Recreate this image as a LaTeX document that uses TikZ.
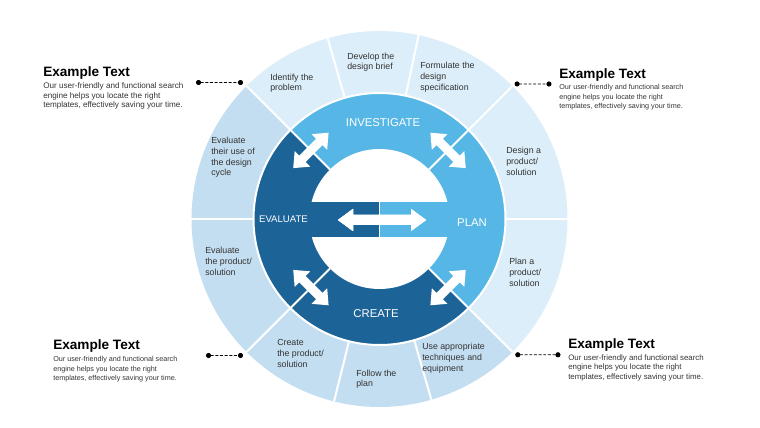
\documentclass[tikz,border=0pt]{standalone}
\usepackage{fontspec}
\setmainfont{Liberation Sans}
\usepackage{tikz}
\usetikzlibrary{arrows.meta, positioning}
\definecolor{darkblue}{HTML}{1C6397}
\definecolor{lightblue}{HTML}{56B7E6}
\definecolor{segL}{HTML}{DCEEF9}
\definecolor{segM}{HTML}{C4DEF1}
\definecolor{txtgray}{HTML}{333333}
\tikzset{>=stealth,
  seg/.style={anchor=base west, align=left, inner sep=0pt, text=txtgray, font=\fontsize{6.6}{8}\selectfont},
  phase/.style={inner sep=0pt, text=white, font=\fontsize{8.5}{10}\selectfont},
  head/.style={anchor=base west, inner sep=0pt, font=\fontsize{10.2}{12}\selectfont\bfseries},
  body/.style={anchor=base west, inner sep=0pt, text=txtgray, align=left, font=\fontsize{6.1}{7.2}\selectfont},
  bodysm/.style={body, font=\fontsize{5.4}{7.2}\selectfont},
  conn/.style={dash pattern=on 2.2pt off 1.3pt, line width=0.6pt, {Circle[length=3.8pt]}-{Circle[length=3.8pt]}},
  sep/.style={white, line width=1.5pt}
}
\newcommand\ringarrow[1]{%
  \fill[white, shift={(#1:97)}, rotate=#1+90] (-25,0) -- (-12,11) -- (-12,4.5) -- (12,4.5) -- (12,11)
    -- (25,0) -- (12,-11) -- (12,-4.5) -- (-12,-4.5) -- (-12,-11) -- cycle;}

\begin{document}
\begin{tikzpicture}[x=0.75pt, y=0.75pt]
\useasboundingbox (-379.5,-209) rectangle (380.5,219);

% outer ring
\foreach \a/\b/\c in {135/106/segL, 106/78/segL, 78/45/segL, 45/0/segL, 0/-45/segL,
                      -45/-74/segM, -74/-104/segM, -104/-135/segM, 180/225/segM, 135/180/segM}
  \fill[\c] (0,0) -- (\a:188) arc[start angle=\a, end angle=\b, radius=188] -- cycle;
\foreach \a in {0,45,78,106,135,180,225,256,286,315}
  \draw[sep] (\a:126) -- (\a:188);

% phase ring
\fill[lightblue] (0,0) -- (-45:126) arc[start angle=-45, end angle=135, radius=126] -- cycle;
\fill[darkblue] (0,0) -- (135:126) arc[start angle=135, end angle=315, radius=126] -- cycle;
\draw[sep] (0,0) circle[radius=126];
\foreach \a in {45,135,225,315}
  \draw[sep] (\a:70) -- (\a:126);
\fill[white] (0,0) circle[radius=70];
\fill[darkblue] (-72,-18) rectangle (0,17);
\fill[lightblue] (0,-18) rectangle (72,17);
\draw[white, line width=1.2pt] (0,-18) -- (0,17);

\foreach \a in {45,135,225,315}
  \ringarrow{\a}
\fill[white] (-41.5,-1) -- (-26.5,10) -- (-26.5,4) -- (31.5,4) -- (31.5,10) -- (46.5,-1)
  -- (31.5,-12) -- (31.5,-6) -- (-26.5,-6) -- (-26.5,-12) -- cycle;

\node[phase] (inv) at (3.5,96) {INVESTIGATE};
\node[phase] (pln) at (92.5,-4) {PLAN};
\node[phase] (cre) at (-3.5,-95) {CREATE};
\node[phase, font=\fontsize{7.2}{9}\selectfont] (evl) at (-96,0) {EVALUATE};

% base of each text is its last line
\node[seg] (s1) at (-109.5,128.3) {Identify the\\problem};
\node[seg] (s2) at (-32.5,149.3) {Develop the\\design brief};
\node[seg] (s3) at (40.5,128.7) {Formulate the\\design\\specification};
\node[seg] (s4) at (126.5,43.7) {Design a\\product/\\solution};
\node[seg] (s5) at (129.5,-67.3) {Plan a\\product/\\solution};
\node[seg] (s6) at (42.5,-152.3) {Use appropriate\\techniques and\\equipment};
\node[seg] (s7) at (-23.5,-167.7) {Follow the\\plan};
\node[seg] (s8) at (-102.5,-148.3) {Create\\the product/\\solution};
\node[seg] (s9) at (-174.5,-56.3) {Evaluate\\the product/\\solution};
\node[seg] (s10) at (-168.5,43) {Evaluate\\their use of\\the design\\cycle};

% example texts
\node[head] (h1) at (-336.5,142.5) {Example Text};
\node[body] (b1) at (-336.5,111.3) {Our user-friendly and functional search\\engine helps you locate the right\\templates, effectively saving your time.};
\node[head] (h2) at (179.5,140) {Example Text};
\node[bodysm] (b2) at (179.5,110.3) {Our user-friendly and functional search\\engine helps you locate the right\\templates, effectively saving your time.};
\node[head] (h3) at (-326.5,-131) {Example Text};
\node[bodysm] (b3) at (-326.5,-161.7) {Our user-friendly and functional search\\engine helps you locate the right\\templates, effectively saving your time.};
\node[head] (h4) at (188.5,-129.5) {Example Text};
\node[body, font=\fontsize{5.9}{7.2}\selectfont] (b4) at (188.5,-160.2) {Our user-friendly and functional search\\engine helps you locate the right\\templates, effectively saving your time.};

\coordinate (c1a) at (-183.5,136.5);
\coordinate (c1b) at (135:193);
\coordinate (c2a) at (45:191);
\coordinate (c2b) at (172,135);
\coordinate (c3a) at (-173.5,-136.5);
\coordinate (c3b) at (225:193);
\coordinate (c4a) at (315:192);
\coordinate (c4b) at (181,-135.8);
\draw[conn] (c1a) -- (c1b);
\draw[conn] (c2a) -- (c2b);
\draw[conn] (c3a) -- (c3b);
\draw[conn] (c4a) -- (c4b);
\end{tikzpicture}
\end{document}
